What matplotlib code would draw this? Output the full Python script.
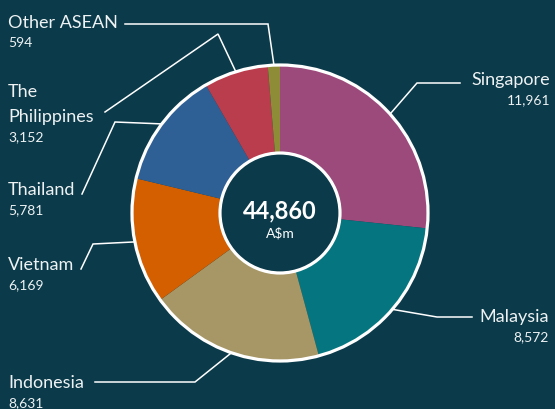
import numpy as np
import matplotlib
matplotlib.use("Agg")
import matplotlib.pyplot as plt
from matplotlib.patches import Circle

# ASEAN breakdown, A$m
countries = ["Singapore", "Malaysia", "Indonesia", "Vietnam", "Thailand", "The\nPhilippines", "Other ASEAN"]
values = [11961, 8572, 8631, 6169, 5781, 3152, 594]
value_labels = ["11,961", "8,572", "8,631", "6,169", "5,781", "3,152", "594"]
total_label = "44,860"
unit_label = "A$m"

colors = ["#9b4a7b", "#05767f", "#a79766", "#d35f00", "#2f6095", "#ba3d4d", "#8f8c37"]
bg = "#0b3a4a"
txt = "#eef2f3"

W, H = 555, 410
plt.rcParams["font.family"] = ["Lato", "DejaVu Sans"]

fig = plt.figure(figsize=(W / 100, H / 100), dpi=100, facecolor=bg)
ax = fig.add_axes([0, 0, 1, 1])

cx, cy = 280, H - 214
R = 148
r_in = 60

wedges, _ = ax.pie(values, colors=colors, startangle=90, counterclock=False,
                   radius=R, center=(cx, cy), frame=True,
                   wedgeprops=dict(edgecolor="none", linewidth=0))
ax.set_xlim(0, W)
ax.set_ylim(0, H)
ax.set_aspect("equal")
ax.set_facecolor(bg)
ax.axis("off")

ax.add_patch(Circle((cx, cy), R, fill=False, edgecolor="white", linewidth=2.3, zorder=3))
ax.add_patch(Circle((cx, cy), r_in, facecolor=bg, edgecolor="white", linewidth=2.3, zorder=4))

ax.text(cx, H - 211, total_label, color="white", fontsize=17, fontweight="bold",
        ha="center", va="center", zorder=5)
ax.text(cx, H - 233, unit_label, color="white", fontsize=10, ha="center", va="center", zorder=5)

# leader line elbows / ends and label placement (pixel coords, y down)
elbows = [(417, 84), (437, 318), (195, 383), (93, 245), (115, 123), (218, 35), (268, 25)]
ends = [(460, 84), (472, 318), (95, 383), (81, 270), (82, 195), (105, 113), (125, 25)]
name_pos = [(550, 85, "right"), (549, 322, "right"), (8, 388, "left"), (8, 270, "left"),
            (8, 195, "left"), (8, 122, "left"), (8, 28, "left")]

frac = np.cumsum([0] + values) / sum(values)
for i, name in enumerate(countries):
    mid = 90 - 360 * (frac[i] + frac[i + 1]) / 2
    sx = cx + (R + 1) * np.cos(np.radians(mid))
    sy = cy + (R + 1) * np.sin(np.radians(mid))
    ex, ey = elbows[i]
    tx, ty = ends[i]
    ax.plot([sx, ex, tx], [sy, H - ey, H - ty], color="white", linewidth=1.1,
            solid_joinstyle="miter", zorder=2)

    x, yb, ha = name_pos[i]
    lines = name.split("\n")
    for k, line in enumerate(reversed(lines)):
        ax.text(x, H - yb + 25 * k, line, color=txt, fontsize=13, ha=ha, va="baseline")
    ax.text(x, H - yb - 19, value_labels[i], color=txt, fontsize=10, ha=ha, va="baseline")

fig.savefig("out.png", dpi=100, facecolor=bg)
